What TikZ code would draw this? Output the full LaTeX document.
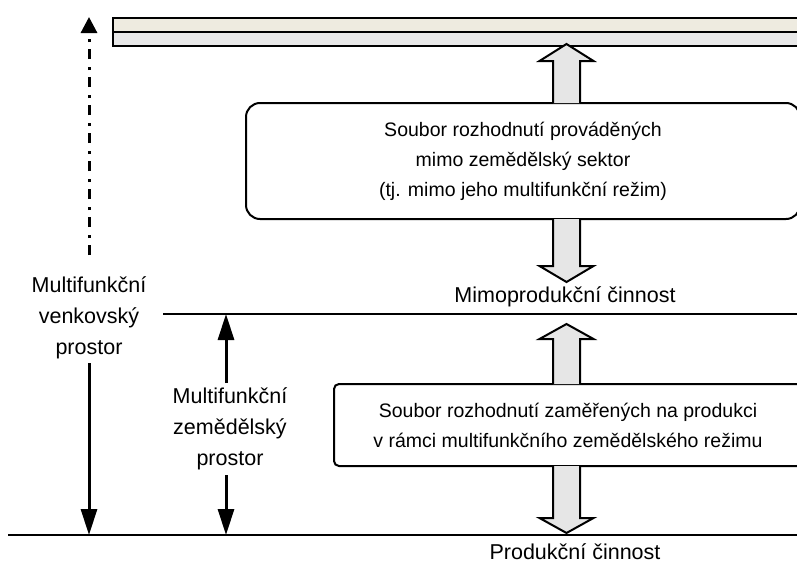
\documentclass[tikz,border=0pt]{standalone}
\usepackage{fontspec}
\setmainfont{Liberation Sans}
\usetikzlibrary{arrows.meta}
\definecolor{barA}{HTML}{EEEBE0}
\definecolor{barB}{HTML}{E8E8E8}
\definecolor{arrfill}{HTML}{E6E6E6}
\newcommand\blockarr[4]{\draw[blockarrow] (#1-13.5,#2) -- (#1-13.5,#3) -- (#1-27,#3) -- (#1,#4) -- (#1+27,#3) -- (#1+13.5,#3) -- (#1+13.5,#2);}
\begin{document}
\begin{tikzpicture}[x=1pt,y=-1pt,
  hline/.style={line width=2pt},
  dimarrow/.style={line width=3pt,-{Triangle[width=16pt,length=26pt]}},
  boxtxt/.style={font=\fontsize{19.5}{30}\selectfont,align=center},
  lbl/.style={font=\fontsize{21.5}{31}\selectfont,align=center,inner sep=0pt},
  decbox/.style={draw,line width=2pt,fill=white},
  blockarrow/.style={draw,line width=2pt,fill=arrfill,line join=miter}]
\useasboundingbox (0,0) rectangle (797,570);
\clip (0,0) rectangle (797,570);
% top bar
\node[draw,line width=2pt,fill=barA,minimum width=700pt,minimum height=14pt,inner sep=0pt,anchor=north west] (barTop) at (112,17) {};
\node[draw,line width=2pt,fill=barB,minimum width=700pt,minimum height=14pt,inner sep=0pt,anchor=north west] (barBot) at (112,31) {};
% boxes
\node[decbox,rounded corners=14pt,minimum width=554pt,minimum height=116pt,boxtxt] (upbox) at (523,161)
  {Soubor rozhodnutí prováděných\\mimo zemědělský sektor\\(tj. mimo jeho multifunkční režim)};
\node[decbox,rounded corners=5pt,minimum width=468pt,minimum height=82pt,boxtxt] (lowbox) at (568,425)
  {Soubor rozhodnutí zaměřených na produkci\\v rámci multifunkčního zemědělského režimu};
% block arrows
\blockarr{566.5}{103}{61}{44}
\blockarr{566.5}{219}{266}{282}
\blockarr{566.5}{384}{339}{324}
\blockarr{566.5}{466}{518}{533}
% horizontal lines
\coordinate (m1) at (163,314); \coordinate (m2) at (800,314);
\coordinate (b1) at (8,535); \coordinate (b2) at (800,535);
\draw[hline] (m1) -- (m2);
\draw[hline] (b1) -- (b2);
% labels
\node[lbl] (mimo) at (565,297) {Mimoprodukční činnost};
\node[lbl] (prod) at (575,552) {Produkční činnost};
\node[lbl] (venk) at (89,318) {Multifunkční\\venkovský\\prostor};
\node[lbl] (zem) at (230,429) {Multifunkční\\zemědělský\\prostor};
% dimension arrows
\coordinate (vtop) at (89,363);
\draw[dimarrow] (vtop) -- (vtop |- b1);
\coordinate (zt) at (226,383);
\draw[dimarrow] (zt) -- (zt |- m1);
\coordinate (zb) at (226,475);
\draw[dimarrow] (zb) -- (zb |- b1);
\coordinate (dd) at (89,255); \coordinate (ddt) at (89,17);
\draw[line width=3pt,dash pattern=on 10pt off 7pt on 3pt off 8pt,-{Triangle[width=16pt,length=16pt]}] (dd) -- (ddt);
\end{tikzpicture}
\end{document}
